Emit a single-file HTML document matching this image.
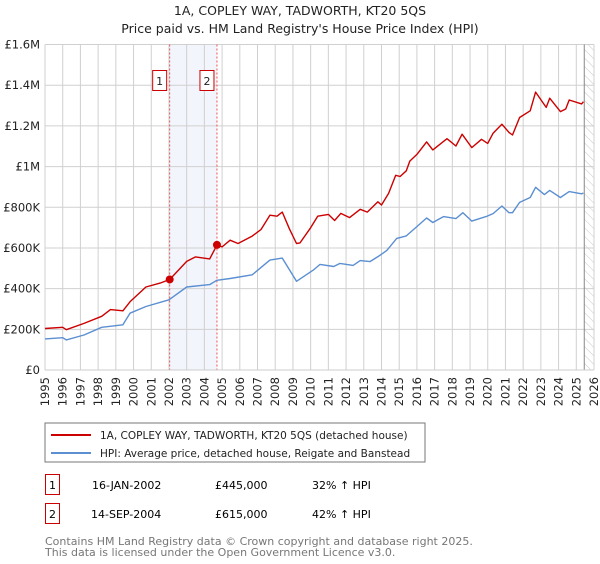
<!DOCTYPE html>
<html><head><meta charset="utf-8"><style>
body{margin:0;background:#fff;font-family:"DejaVu Sans","Liberation Sans",sans-serif;}
svg text{font-family:"DejaVu Sans","Liberation Sans",sans-serif;}
</style></head><body>
<svg id="c" width="600" height="560" viewBox="0 0 600 560" xmlns="http://www.w3.org/2000/svg">
<defs><pattern id="hatch" width="6" height="6" patternUnits="userSpaceOnUse" patternTransform="rotate(-45)"><line x1="0" y1="0" x2="0" y2="6" stroke="#c8c8c8" stroke-width="1"/></pattern></defs>
<text x="300" y="15" text-anchor="middle" font-size="12.5" fill="#222">1A, COPLEY WAY, TADWORTH, KT20 5QS</text>
<text x="300" y="33" text-anchor="middle" font-size="12.5" fill="#222">Price paid vs. HM Land Registry's House Price Index (HPI)</text>
<g id="grid"></g><g id="marks"></g><g id="axes"></g>
<rect x="45" y="423" width="380" height="39" fill="#fff" stroke="#777"/>
<line x1="51" y1="435" x2="91" y2="435" stroke="#cc0000" stroke-width="2"/>
<text x="100" y="439" font-size="10.5" fill="#222">1A, COPLEY WAY, TADWORTH, KT20 5QS (detached house)</text>
<line x1="51" y1="453" x2="91" y2="453" stroke="#5b8fd1" stroke-width="2"/>
<text x="100" y="457" font-size="10.5" fill="#222">HPI: Average price, detached house, Reigate and Banstead</text>
<g>
<rect x="45.5" y="474.5" width="14" height="20" fill="#fff" stroke="#cc0000"/><text x="52.5" y="489" text-anchor="middle" font-size="11">1</text>
<text x="92" y="489" font-size="11">16-JAN-2002</text><text x="215" y="489" font-size="11">£445,000</text><text x="312" y="489" font-size="11">32% ↑ HPI</text></g>
<g>
<rect x="45.5" y="503.5" width="14" height="20" fill="#fff" stroke="#cc0000"/><text x="52.5" y="518" text-anchor="middle" font-size="11">2</text>
<text x="91" y="518" font-size="11">14-SEP-2004</text><text x="215" y="518" font-size="11">£615,000</text><text x="312" y="518" font-size="11">42% ↑ HPI</text></g>
<text x="45" y="545" font-size="11" fill="#777">Contains HM Land Registry data © Crown copyright and database right 2025.</text>
<text x="45" y="556" font-size="11" fill="#777">This data is licensed under the Open Government Licence v3.0.</text>
</svg>
<script>
const yTickValues=[0,200000,400000,600000,800000,1000000,1200000,1400000,1600000];
const yTickLabels=["£0","£200K","£400K","£600K","£800K","£1M","£1.2M","£1.4M","£1.6M"];
const xTickYears=[1995,1996,1997,1998,1999,2000,2001,2002,2003,2004,2005,2006,2007,2008,2009,2010,2011,2012,2013,2014,2015,2016,2017,2018,2019,2020,2021,2022,2023,2024,2025,2026];
const hpiYears=[1995.0,1996.0,1996.2,1997.2,1998.2,1999.4,1999.8,2000.7,2002.0,2003.0,2004.3,2004.7,2005.45,2006.7,2007.7,2008.4,2009.2,2010.15,2010.53,2011.3,2011.66,2012.4,2012.8,2013.35,2013.9,2014.3,2014.86,2015.4,2016.2,2016.55,2016.9,2017.5,2018.2,2018.6,2019.1,2019.9,2020.3,2020.8,2021.2,2021.4,2021.8,2022.4,2022.7,2023.2,2023.5,2024.1,2024.6,2025.3,2025.4];
const hpiValues=[153000,159000,148000,172000,210000,222000,279000,312000,345000,408000,420000,441000,450000,468000,540000,550000,436000,491000,519000,509000,524000,514000,538000,533000,563000,588000,647000,659000,720000,747000,725000,754000,744000,773000,732000,754000,769000,806000,773000,773000,824000,848000,898000,862000,883000,848000,877000,866000,870000];
const priceYears=[1995.0,1996.0,1996.2,1997.2,1998.2,1998.7,1999.4,1999.8,2000.7,2001.5,2002.04,2003.0,2003.5,2004.3,2004.71,2005.0,2005.45,2005.9,2006.7,2007.2,2007.7,2008.1,2008.4,2008.8,2009.2,2009.4,2010.0,2010.4,2011.0,2011.35,2011.7,2012.2,2012.8,2013.2,2013.8,2014.0,2014.4,2014.8,2015.05,2015.4,2015.6,2016.0,2016.55,2016.9,2017.7,2018.2,2018.55,2019.1,2019.65,2020.0,2020.3,2020.8,2021.2,2021.4,2021.8,2022.4,2022.7,2023.3,2023.5,2024.1,2024.4,2024.6,2025.3,2025.4];
const priceValues=[204000,210000,198000,229000,264000,297000,291000,335000,408000,427000,445000,534000,556000,546000,615000,605000,638000,622000,658000,691000,761000,756000,776000,694000,622000,625000,699000,756000,765000,735000,770000,749000,790000,776000,827000,811000,868000,957000,951000,979000,1027000,1060000,1121000,1082000,1137000,1101000,1159000,1093000,1134000,1114000,1164000,1208000,1168000,1155000,1241000,1274000,1366000,1291000,1336000,1270000,1283000,1327000,1308000,1319000];
const saleYears=[2002.04,2004.71];
const saleValues=[445000,615000];
const saleLabels=["1","2"];
const dataEndYear=2025.45;

const X0=45,X1=594,Y0=370,Y1=44.5;
const xs=y=>X0+(y-1995)/(2026-1995)*(X1-X0);
const ys=v=>Y0-v/1600000*(Y0-Y1);
const NS="http://www.w3.org/2000/svg";
function mk(tag,attrs,parent){const e=document.createElementNS(NS,tag);for(const k in attrs)e.setAttribute(k,attrs[k]);parent.appendChild(e);return e;}
const grid=document.getElementById('grid'),marks=document.getElementById('marks'),axes=document.getElementById('axes');
let sh=mk('rect',{x:xs(saleYears[0]),y:Y1,width:xs(saleYears[1])-xs(saleYears[0]),height:Y0-Y1,fill:'#f2f5fc'},grid);


xTickYears.forEach(yr=>{
  let l=mk('line',{x1:xs(yr),x2:xs(yr),y1:Y1,y2:Y0,stroke:'#d0d0d0','stroke-width':1},grid);
  
  
  let t=mk('text',{x:0,y:0,'font-size':11.5,fill:'#222','text-anchor':'end',transform:`translate(${xs(yr)+4},${Y0+7}) rotate(-90)`},axes);
  t.textContent=yr;
  
  
});
yTickValues.forEach((v,i)=>{
  let l=mk('line',{x1:X0,x2:X1,y1:ys(v),y2:ys(v),stroke:'#d0d0d0','stroke-width':1},grid);
  
  
  let t=mk('text',{x:X0-5,y:ys(v)+4,'font-size':11.5,fill:'#222','text-anchor':'end'},axes);
  t.textContent=yTickLabels[i];
  
  
});
let ht=mk('rect',{x:xs(dataEndYear),y:Y1,width:X1-xs(dataEndYear),height:Y0-Y1,fill:'url(#hatch)'},grid);


let el=mk('line',{x1:xs(dataEndYear),x2:xs(dataEndYear),y1:Y1,y2:Y0,stroke:'#888','stroke-width':1},grid);


saleYears.forEach((yr,i)=>{
  let l=mk('line',{x1:xs(yr),x2:xs(yr),y1:Y1,y2:Y0,stroke:'#e55','stroke-width':1,'stroke-dasharray':'2,2'},grid);
  
  
});
function path(xa,va,color,name){
  let d=xa.map((x,i)=>(i?'L':'M')+xs(x).toFixed(1)+','+ys(va[i]).toFixed(1)).join('');
  let p=mk('path',{d:d,fill:'none',stroke:color,'stroke-width':1.4,'stroke-linejoin':'round'},marks);
  
  
}
path(hpiYears,hpiValues,'#5b8fd1','hpi-line');
path(priceYears,priceValues,'#cc0000','price-line');
saleYears.forEach((yr,i)=>{
  let c=mk('circle',{cx:xs(yr),cy:ys(saleValues[i]),r:4,fill:'#cc0000'},marks);
  
  
  let g=mk('g',{},marks);
  
  
  mk('rect',{x:xs(yr)-17,y:70.5,width:14,height:20,fill:'#fff',stroke:'#cc0000'},g);
  let t=mk('text',{x:xs(yr)-10,y:85,'font-size':11,'text-anchor':'middle',fill:'#222'},g);
  t.textContent=saleLabels[i];
});
let ax=mk('line',{x1:X0,x2:X1,y1:Y0,y2:Y0,stroke:'#ccc'},axes);


</script>
</body></html>
